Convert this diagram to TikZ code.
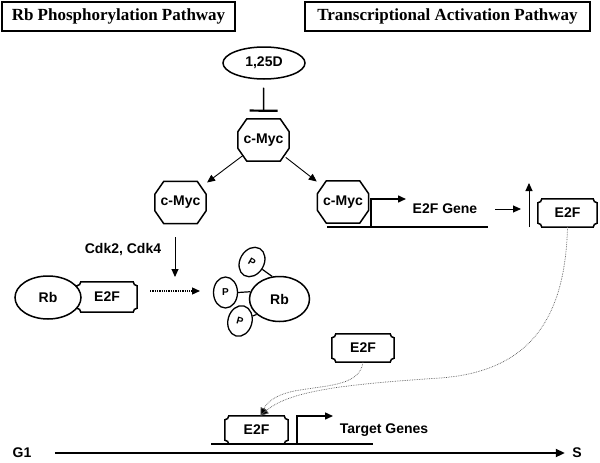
\documentclass[tikz,border=0pt]{standalone}
\usepackage{fontspec}
\setmainfont{Liberation Serif}
\setsansfont{Liberation Sans}
\usetikzlibrary{arrows.meta,calc,shapes.geometric}
\newcommand\myticket[4]{%
  \node[box, minimum width=#3pt, minimum height=#4pt] (#1) at (#2) {E2F};
  \draw[shp] ([yshift=4pt]#1.south west) arc[start angle=90,end angle=0,radius=4pt]
    -- ([xshift=-4pt]#1.south east) arc[start angle=180,end angle=90,radius=4pt]
    -- ([yshift=-4pt]#1.north east) arc[start angle=270,end angle=180,radius=4pt]
    -- ([xshift=4pt]#1.north west) arc[start angle=0,end angle=-90,radius=4pt] -- cycle;}
\newcommand\myocta[2]{%
  \node[box, minimum width=51pt, minimum height=42pt] (#1) at (#2) {c-Myc};
  \draw[shp] ([xshift=9pt]#1.north west) -- ([xshift=-9pt]#1.north east)
    -- ([yshift=-13pt]#1.north east) -- ([yshift=13pt]#1.south east)
    -- ([xshift=-9pt]#1.south east) -- ([xshift=9pt]#1.south west)
    -- ([yshift=13pt]#1.south west) -- ([yshift=-13pt]#1.north west) -- cycle;}
\begin{document}
\begin{tikzpicture}[x=1pt,y=-1pt,
  lbl/.style={font=\sffamily\bfseries\fontsize{14}{16}\selectfont},
  shp/.style={line width=1.5pt},
  box/.style={draw=none, inner sep=0pt, lbl},
  ell/.style={ellipse, draw, line width=1.5pt, fill=white, inner sep=0pt, lbl},
  pell/.style={ellipse, draw, line width=1.3pt, fill=white, inner sep=0pt, minimum width=24pt, minimum height=31pt, font=\sffamily\bfseries\fontsize{10}{12}\selectfont},
  title/.style={draw, line width=1.2pt, inner sep=0pt, minimum height=29pt, font=\rmfamily\bfseries\fontsize{17}{20}\selectfont},
  arr/.style={line width=0.9pt, -{Triangle[length=8pt,width=7pt]}},
  dotarr/.style={line width=1.3pt, densely dotted, -{Triangle[length=8pt,width=7pt]}},
  dcurve/.style={line width=0.7pt, densely dotted, draw=black!65, -{Triangle[length=8pt,width=7pt,fill=black]}},
  gene/.style={line width=1.8pt},
  link/.style={line width=1.2pt}]
\useasboundingbox (0,0) rectangle (600,463);

% titles
\node[title, minimum width=233pt] (t1) at (118.5,16.5) {Rb Phosphorylation Pathway};
\node[title, minimum width=285pt] (t2) at (447.5,16.5) {Transcriptional Activation Pathway};

% 1,25D and c-Myc
\node[ell, minimum width=82pt, minimum height=32pt] (d) at (264,63) {1,25D};
\myocta{m0}{263.5,140}
\draw[line width=1.5pt, shorten <=8pt, -{Bar[width=28pt,line width=2.2pt]}] (d) -- ([yshift=7pt]m0.north);
\myocta{m1}{180.5,202.5}
\myocta{m2}{343,202}
\draw[arr] ($(m0)!0.25!(m1)$) -- ($(m0)!0.68!(m1)$);
\draw[arr] ($(m0)!0.28!(m2)$) -- ($(m0)!0.67!(m2)$);

% Rb phosphorylation
\coordinate (c1) at (175,237);
\coordinate (c2) at (175,277);
\draw[arr] (c1) -- (c2);
\node[lbl] (cdk) at (123,250) {Cdk2, Cdk4};
\myticket{e2fL}{107,297}{60}{30}
\node[ell, minimum width=66pt, minimum height=43pt] (rbL) at (48,297.5) {Rb};
\coordinate (q1) at (150,291);
\coordinate (q2) at (200,291);
\draw[dotarr] (q1) -- (q2);
\node[ell, minimum width=60pt, minimum height=45pt] (rbR) at (279.5,299) {Rb};
\node[pell] (pL) at (225.5,292.5) {P};
\node[pell, rotate=-30] (pT) at (252,262) {P};
\node[pell, rotate=-15] (pB) at (240,321) {P};
\draw[link] (pL.east) -- (rbR.166);
\draw[link] (pT) -- (rbR.108);
\draw[link] (pB) -- (rbR.214);

% E2F gene
\draw[gene] (327,227) -- (488,227);
\draw[line width=1.5pt, -{Triangle[length=8pt,width=7pt]}] (371,227) |- (406,199);
\node[lbl] (eg) at (445,209) {E2F Gene};
\coordinate (g1) at (495,209);
\coordinate (g2) at (521,209);
\draw[arr] (g1) -- (g2);
\coordinate (u1) at (529,227);
\coordinate (u2) at (529,183);
\draw[arr] (u1) -- (u2);
\myticket{e2fR}{567.5,213}{59}{28}

% target genes
\myticket{e2fF}{363,348}{62}{28}
\myticket{e2fB}{256.5,430}{63}{28}
\draw[gene] (211,444) -- (373,444);
\draw[line width=1.5pt, -{Triangle[length=8pt,width=7pt]}] (297,444) |- (333,416);
\node[lbl] (tg) at (384,430) {Target Genes};
\draw[dcurve] (e2fR.south) .. controls (565,330) and (520,372) .. (440,378)
   .. controls (350,384) and (290,390) .. ([xshift=4pt]e2fB.north);
\draw[dcurve] (e2fF.south) .. controls (360,385) and (330,385) .. (300,390)
   .. controls (280,393) and (268,400) .. ([xshift=4pt]e2fB.north);

% cell cycle axis
\node[lbl] (G) at (22,453) {G1};
\node[lbl] (S) at (577,453) {S};
\draw[line width=2pt, -{Triangle[length=9pt,width=8pt]}] (G.east) ++(20,0) coordinate (a1) -- ([xshift=-4pt]S.west);
\end{tikzpicture}
\end{document}
